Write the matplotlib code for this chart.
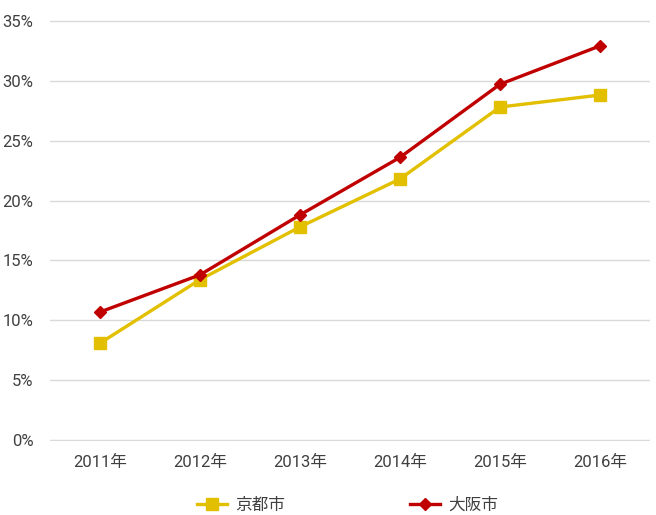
import matplotlib
matplotlib.use("Agg")
import matplotlib.pyplot as plt
from matplotlib.ticker import FuncFormatter

plt.rcParams["font.family"] = ["Roboto", "Noto Sans CJK JP", "DejaVu Sans"]

years = ["2011年", "2012年", "2013年", "2014年", "2015年", "2016年"]
kyoto = [8.1, 13.4, 17.8, 21.8, 27.8, 28.8]
osaka = [10.7, 13.8, 18.8, 23.6, 29.7, 32.9]

yellow = "#E2C000"
red = "#C00000"
text_color = "#404040"

fig = plt.figure(figsize=(6.56, 5.15), dpi=100)
ax = fig.add_axes([50 / 656, 74 / 515, 600 / 656, 421 / 515])

x = list(range(len(years)))
ax.plot(x, kyoto, color=yellow, lw=2.4, marker="s", markersize=8.5,
        label="京都市", zorder=3)
ax.plot(x, osaka, color=red, lw=2.4, marker="D", markersize=6.5,
        label="大阪市", zorder=4)

ax.set_xlim(-0.5, len(years) - 0.5)
# small pad so the 0% and 35% gridlines are not clipped
ax.set_ylim(-0.06, 35.06)
ax.set_yticks(range(0, 36, 5))
ax.yaxis.set_major_formatter(FuncFormatter(lambda v, p: f"{int(v)}%"))
ax.set_xticks(x)
ax.set_xticklabels(years)

ax.grid(axis="y", color="#D9D9D9", lw=1)
ax.set_axisbelow(True)
for s in ax.spines.values():
    s.set_visible(False)
ax.tick_params(length=0, labelsize=12, labelcolor=text_color)
ax.tick_params(axis="y", pad=12)
ax.tick_params(axis="x", pad=10)

fig.legend(loc="lower center", bbox_to_anchor=(0.53, -0.025), ncol=2,
           frameon=False, fontsize=12, handlelength=1.8, handletextpad=0.5,
           columnspacing=7.5, labelcolor=text_color)

fig.savefig("out.png", dpi=100)
